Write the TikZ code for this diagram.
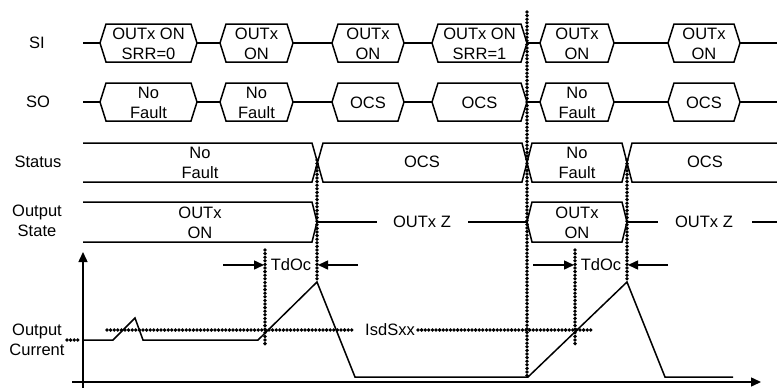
\documentclass[tikz,border=0pt]{standalone}
\usepackage{fontspec}
\setmainfont{Liberation Sans}
\usetikzlibrary{arrows.meta}
\newcommand\hexbox[5]{%
  \draw[sig,fill=white] (#2,#4) -- (#2+6,#4-19) -- (#3-6,#4-19) -- (#3,#4) -- (#3-6,#4+19) -- (#2+6,#4+19) -- cycle;
  \node[lbl] (#1) at ({(#2+#3)/2},#4+1) {#5};}
% vertical dot chain: x, y-from, y-to
\newcommand\vchain[3]{\pgfmathtruncatemacro\nnv{(#3-#2)/3.6}%
  \foreach \k in {0,...,\nnv} {\fill (#1,{#2+3.6*\k}) circle [radius=1.9pt];}}
% horizontal dot chain: y, x-from, x-to
\newcommand\hchain[3]{\pgfmathtruncatemacro\nnh{(#3-#2)/3.6}%
  \foreach \k in {0,...,\nnh} {\fill ({#2+3.6*\k},#1) circle [radius=1.9pt];}}
\begin{document}
\begin{tikzpicture}[x=1pt,y=-1pt,
  sig/.style={line width=1.5pt, line join=miter},
  lbl/.style={font=\fontsize{16.5}{20}\selectfont, align=center, inner sep=0pt},
  tip/.style={-{Triangle[length=10pt,width=9pt]}, line width=1.5pt}]
\useasboundingbox (0,0) rectangle (777,388);
% row labels
\node[lbl] (lsi) at (37,43) {SI};
\node[lbl] (lso) at (38,102) {SO};
\node[lbl] (lst) at (38,162) {Status};
\node[lbl] (los) at (37,221) {Output\\State};
\node[lbl] (loc) at (37,340) {Output\\Current};
% SI row
\draw[sig] (83,43) -- (777,43);
\hexbox{si1}{100}{197}{43}{OUTx ON\\SRR=0}
\hexbox{si2}{220}{293}{43}{OUTx\\ON}
\hexbox{si3}{332}{404}{43}{OUTx\\ON}
\hexbox{si4}{432}{527}{43}{OUTx ON\\SRR=1}
\hexbox{si5}{540}{614}{43}{OUTx\\ON}
\hexbox{si6}{668}{740}{43}{OUTx\\ON}
% SO row
\draw[sig] (83,102) -- (777,102);
\hexbox{so1}{100}{197}{102}{No\\Fault}
\hexbox{so2}{220}{293}{102}{No\\Fault}
\hexbox{so3}{332}{404}{102}{OCS}
\hexbox{so4}{432}{527}{102}{OCS}
\hexbox{so5}{540}{614}{102}{No\\Fault}
\hexbox{so6}{668}{740}{102}{OCS}
% Status row
\draw[sig] (83,143) -- (312,143) -- (323,182) -- (522,182) -- (532,143) -- (622,143) -- (632,182) -- (777,182);
\draw[sig] (83,182) -- (312,182) -- (323,143) -- (522,143) -- (532,182) -- (622,182) -- (632,143) -- (777,143);
\node[lbl] (st1) at (200,163) {No\\Fault};
\node[lbl] (st2) at (422,162) {OCS};
\node[lbl] (st3) at (577,163) {No\\Fault};
\node[lbl] (st4) at (705,162) {OCS};
% Output state row
\draw[sig] (83,202) -- (312,202) -- (317,222) -- (312,242) -- (83,242);
\draw[sig] (317,222) -- (377,222);
\draw[sig] (468,222) -- (527,222);
\draw[sig] (527,222) -- (532,202) -- (622,202) -- (627,222) -- (622,242) -- (532,242) -- cycle;
\draw[sig] (627,222) -- (658,222);
\draw[sig] (752,222) -- (777,222);
\node[lbl] (os1) at (200,223) {OUTx\\ON};
\node[lbl] (oz1) at (422,222) {OUTx Z};
\node[lbl] (os2) at (577,223) {OUTx\\ON};
\node[lbl] (oz2) at (704,222) {OUTx Z};
% axes
\coordinate (yb) at (83,388);
\coordinate (yt) at (83,252);
\coordinate (xl) at (72,382);
\coordinate (xr) at (761,382);
\draw[tip] (yb) -- (yt);
\draw[tip] (xl) -- (xr);
% output current
\draw[sig] (83,340) -- (113,340) -- (135,318) -- (143,340) -- (258,340) -- (317,282) -- (355,377) -- (528,377) -- (627,282) -- (665,377) -- (733,377);
% threshold
\node[lbl] (isd) at (390,330) {IsdSxx};
\hchain{330}{107}{355}
\hchain{330}{418}{593}
\hchain{340}{67}{81}
% TdOc
\node[lbl] (td1) at (291,265) {TdOc};
\node[lbl] (td2) at (601,265) {TdOc};
\coordinate (a1) at (223,265); \coordinate (a1e) at (264,265);
\coordinate (a2) at (358,265); \coordinate (a2e) at (318,265);
\coordinate (a3) at (533,265); \coordinate (a3e) at (574,265);
\coordinate (a4) at (668,265); \coordinate (a4e) at (628,265);
\draw[tip] (a1) -- (a1e);
\draw[tip] (a2) -- (a2e);
\draw[tip] (a3) -- (a3e);
\draw[tip] (a4) -- (a4e);
% vertical dotted markers
\vchain{265}{250}{345}
\vchain{317}{160}{282}
\vchain{527}{12}{377}
\vchain{575}{250}{345}
\vchain{627}{160}{282}
\end{tikzpicture}
\end{document}
